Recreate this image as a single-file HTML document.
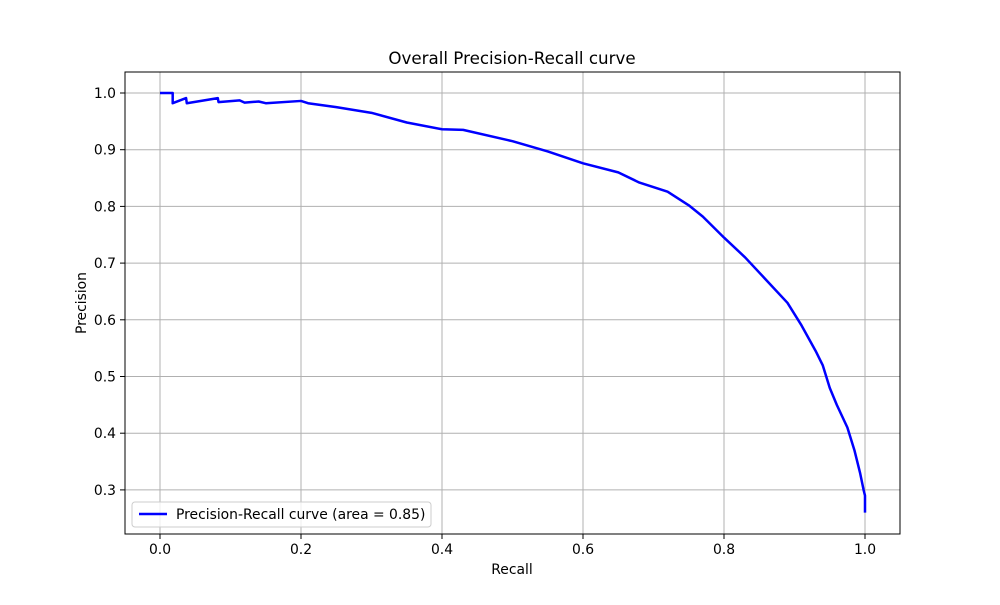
<!DOCTYPE html>
<html><head><meta charset="utf-8"><style>
body{margin:0;background:#fff}
svg{font-family:"DejaVu Sans","Liberation Sans",sans-serif}
</style></head><body>
<svg width="1000" height="600">
<rect x="0" y="0" width="1000" height="600" fill="#fff"/>
<g id="grid"></g>
<g id="ticks"></g>
<polyline id="curve" fill="none" stroke="#0000ff" stroke-width="2.5" stroke-linejoin="round"/>
<rect x="125" y="72" width="775" height="462" fill="none" stroke="#000" stroke-width="1"/>
<text x="512" y="64" font-size="16.7" text-anchor="middle">Overall Precision-Recall curve</text>
<text x="512" y="574" font-size="13.9" text-anchor="middle">Recall</text>
<text x="86" y="303" font-size="13.9" text-anchor="middle" transform="rotate(-90 86 303)">Precision</text>
<g>
<rect x="132" y="502" width="299" height="25" rx="3" fill="#fff" fill-opacity="0.8" stroke="#ccc"/>
<line x1="139" y1="514" x2="167" y2="514" stroke="#0000ff" stroke-width="2.5"/>
<text x="176" y="519" font-size="13.9">Precision-Recall curve (area = 0.85)</text>
</g>
</svg>
<script>
const recall=[0,0.018,0.018,0.037,0.038,0.082,0.083,0.113,0.12,0.14,0.15,0.2,0.21,0.25,0.3,0.35,0.4,0.43,0.5,0.55,0.6,0.65,0.68,0.72,0.75,0.77,0.8,0.83,0.86,0.89,0.91,0.93,0.94,0.95,0.96,0.975,0.985,0.993,0.998,1.0,1.0];
const precision=[1.0,1.0,0.982,0.991,0.982,0.991,0.984,0.987,0.983,0.985,0.982,0.986,0.982,0.975,0.965,0.948,0.936,0.935,0.915,0.897,0.876,0.86,0.842,0.826,0.802,0.782,0.745,0.71,0.67,0.63,0.59,0.545,0.52,0.48,0.45,0.41,0.37,0.33,0.3,0.29,0.26];
const xTicks=[0,0.2,0.4,0.6,0.8,1.0];
const yTicks=[0.3,0.4,0.5,0.6,0.7,0.8,0.9,1.0];
const xs=v=>160+705*v, ys=v=>93+(1-v)*567;
const NS="http://www.w3.org/2000/svg";
const grid=document.getElementById('grid'), ticks=document.getElementById('ticks');
function mk(tag,attrs,parent){const e=document.createElementNS(NS,tag);for(const k in attrs)e.setAttribute(k,attrs[k]);parent.appendChild(e);return e;}
xTicks.forEach(t=>{
  const g=mk('line',{x1:xs(t),x2:xs(t),y1:72,y2:534,stroke:'#b0b0b0','stroke-width':1},grid);
  
  
  mk('line',{x1:xs(t),x2:xs(t),y1:534,y2:539,stroke:'#000'},ticks);
  const l=mk('text',{x:xs(t),y:554,'font-size':13.9,'text-anchor':'middle'},ticks);
  l.textContent=t.toFixed(1);
  
  
});
yTicks.forEach(t=>{
  const g=mk('line',{x1:125,x2:900,y1:ys(t),y2:ys(t),stroke:'#b0b0b0','stroke-width':1},grid);
  
  
  mk('line',{x1:120,x2:125,y1:ys(t),y2:ys(t),stroke:'#000'},ticks);
  const l=mk('text',{x:116,y:ys(t)+5,'font-size':13.9,'text-anchor':'end'},ticks);
  l.textContent=t.toFixed(1);
  
  
});
document.getElementById('curve').setAttribute('points',recall.map((r,i)=>xs(r)+','+ys(precision[i])).join(' '));
</script>
</body></html>
